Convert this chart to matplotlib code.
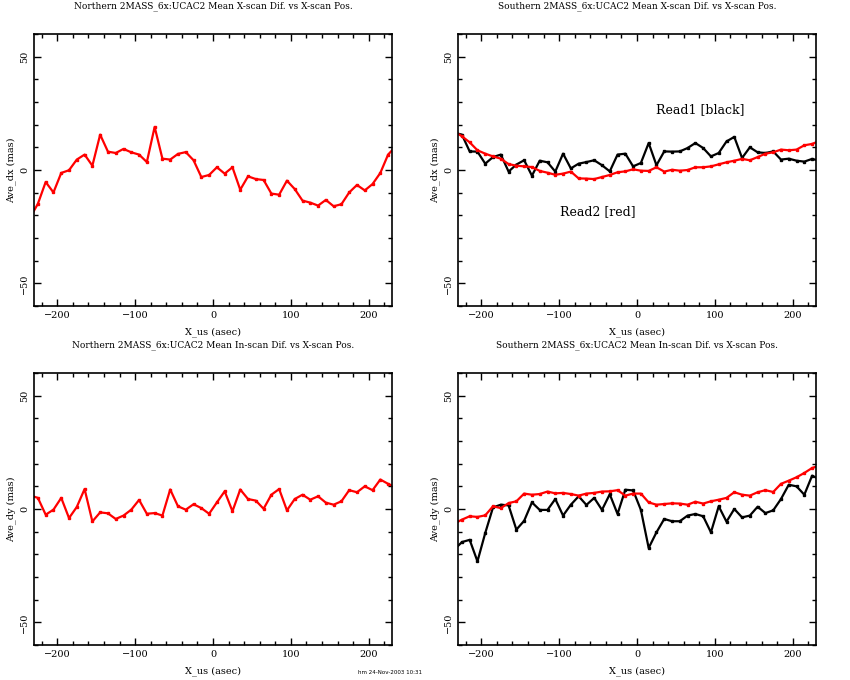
import matplotlib
matplotlib.use("Agg")
import matplotlib.pyplot as plt
from matplotlib.ticker import MultipleLocator

plt.rcParams['font.family'] = ['DejaVu Serif']

# x positions of the bins (asec)
x_us = list(range(-235, 236, 10))

# Northern, X-scan difference (read2 only)
north_dx = [-21.0, -14.9, -5.3, -9.9, -1.3, -0.1, 4.6, 6.8, 1.9, 15.6, 8.1, 7.5,
            9.3, 7.8, 6.8, 3.5, 19.0, 5.0, 4.6, 7.1, 7.9, 4.3, -3.1, -2.2, 1.2,
            -1.6, 1.2, -8.7, -2.8, -4.0, -4.4, -10.4, -10.9, -4.7, -8.4, -13.5,
            -14.4, -15.7, -13.2, -16.0, -15.1, -9.9, -6.6, -9.0, -6.2, -1.3, 6.8, 10.5]

# Southern, X-scan difference
south_dx_read1 = [16.5, 15.6, 8.2, 8.1, 2.8, 5.7, 6.8, -0.7, 2.4, 4.3, -2.5, 4.1,
                  3.4, -0.7, 7.2, 0.7, 2.8, 3.5, 4.3, 2.1, -0.6, 6.8, 7.2, 1.6, 3.1,
                  11.9, 2.1, 8.2, 8.1, 8.2, 9.7, 11.9, 9.7, 6.0, 7.5, 12.6, 14.6,
                  5.3, 10.0, 7.8, 7.5, 8.2, 4.6, 5.0, 4.1, 3.7, 4.9, 4.0]
south_dx_read2 = [17.0, 14.9, 12.2, 8.7, 7.2, 6.0, 5.0, 2.6, 1.9, 1.6, 1.3, -0.4,
                  -1.2, -2.1, -1.6, -0.7, -3.7, -3.8, -4.0, -3.1, -2.2, -1.0, -0.6,
                  0.3, -0.3, -0.4, 1.2, -0.7, 0.1, -0.3, 0.0, 1.2, 1.2, 1.6, 2.5,
                  3.4, 4.1, 4.9, 4.3, 5.7, 7.2, 7.8, 9.0, 8.7, 9.0, 10.9, 11.5, 12.9]

# Northern, in-scan difference
north_dy = [6.0, 4.9, -2.5, -0.3, 4.9, -4.0, 0.9, 8.8, -5.5, -1.5, -1.9, -4.4,
            -2.9, -0.3, 4.0, -2.1, -1.8, -2.9, 8.6, 1.2, -0.3, 2.1, 0.4, -2.1,
            2.9, 7.8, -1.0, 8.6, 4.4, 3.7, 0.1, 6.3, 8.8, -0.6, 4.4, 6.3, 4.1,
            5.6, 2.8, 1.9, 3.4, 8.3, 7.4, 10.0, 8.3, 13.0, 11.1, 9.5]

# Southern, in-scan difference
south_dy_read1 = [-18.0, -14.6, -13.6, -23.1, -10.6, 0.7, 1.9, 1.6, -9.1, -5.2,
                  2.9, -0.4, -0.4, 4.4, -2.9, 1.9, 5.6, 1.8, 4.9, -0.4, 6.5, -2.2,
                  8.5, 8.2, -0.4, -17.2, -10.3, -4.4, -5.4, -5.4, -2.9, -2.2, -3.2,
                  -10.3, 1.2, -5.6, 0.0, -3.7, -2.9, 1.0, -1.8, -0.6, 4.4, 10.7,
                  10.0, 6.3, 14.7, 13.0]
south_dy_read2 = [-6.5, -4.7, -3.2, -3.5, -2.8, 1.2, 0.4, 2.6, 3.4, 6.8, 6.3, 6.6,
                  7.7, 6.9, 7.1, 6.6, 5.9, 6.8, 7.1, 7.7, 7.8, 8.3, 5.9, 6.8, 6.8,
                  2.9, 1.9, 2.2, 2.5, 2.4, 1.9, 3.2, 2.4, 3.4, 4.1, 4.9, 7.4, 6.3,
                  5.9, 7.4, 8.3, 7.5, 11.1, 12.5, 14.0, 15.9, 18.1, 19.2]

titles = ["Northern 2MASS_6x:UCAC2 Mean X-scan Dif. vs X-scan Pos.",
          "Southern 2MASS_6x:UCAC2 Mean X-scan Dif. vs X-scan Pos.",
          "Northern 2MASS_6x:UCAC2 Mean In-scan Dif. vs X-scan Pos.",
          "Southern 2MASS_6x:UCAC2 Mean In-scan Dif. vs X-scan Pos."]
ylabels = ["Ave_dx (mas)", "Ave_dx (mas)", "Ave_dy (mas)", "Ave_dy (mas)"]

fig = plt.figure(figsize=(8.5, 6.8), dpi=100)

W, H = 850.0, 680.0
boxes = [(34, 34), (458, 34), (34, 373), (458, 373)]  # left, top in pixels
axes = []
for (l, t), title, ylab in zip(boxes, titles, ylabels):
    ax = fig.add_axes([l / W, 1 - (t + 272) / H, 358 / W, 272 / H])
    ax.set_xlim(-230, 230)
    ax.set_ylim(-60, 60)
    ax.xaxis.set_major_locator(MultipleLocator(100))
    ax.xaxis.set_minor_locator(MultipleLocator(20))
    ax.yaxis.set_major_locator(MultipleLocator(50))
    ax.yaxis.set_minor_locator(MultipleLocator(10))
    ax.tick_params(which='both', direction='in', top=True, right=True,
                   labelsize=7, width=1)
    ax.tick_params(which='major', length=5)
    ax.tick_params(which='minor', length=3)
    for lbl in ax.get_yticklabels():
        lbl.set_rotation(90)
        lbl.set_va('center')
    for s in ax.spines.values():
        s.set_linewidth(1.2)
    ax.set_xlabel("X_us (asec)", fontsize=7, labelpad=5)
    ax.set_ylabel(ylab, fontsize=7, labelpad=3)
    # title sits well above the frame, near the top of each half
    fig.text((l + 179) / W, 1 - (t - 28) / H, title, fontsize=6.5,
             ha='center', va='center')
    axes.append(ax)

kw = dict(lw=1.6, marker='s', ms=1.6)
axes[0].plot(x_us, north_dx, color='red', **kw)

axes[1].plot(x_us, south_dx_read1, color='black', **kw)
axes[1].plot(x_us, south_dx_read2, color='red', **kw)
axes[1].text(25, 26.5, "Read1 [black]", fontsize=9, va='center')
axes[1].text(-99, -18.5, "Read2 [red]", fontsize=9, va='center')

axes[2].plot(x_us, north_dy, color='red', **kw)

axes[3].plot(x_us, south_dy_read1, color='black', **kw)
axes[3].plot(x_us, south_dy_read2, color='red', **kw)

fig.text(358 / W, 1 - 673 / H, "hm 24-Nov-2003 10:31", fontsize=4,
         family='DejaVu Sans', va='center')

fig.savefig("out.png", dpi=100)
